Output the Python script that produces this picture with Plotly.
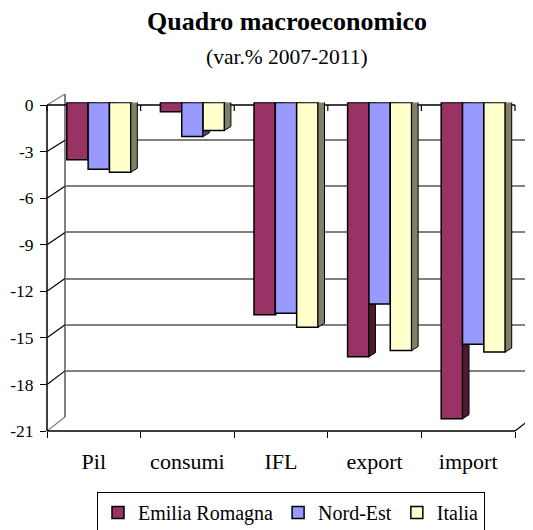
import plotly.graph_objects as go

# ---------------- data ----------------
categories = ["Pil", "consumi", "IFL", "export", "import"]
series_names = ["Emilia Romagna", "Nord-Est", "Italia"]
emilia = [-3.7, -0.6, -13.7, -16.4, -20.4]
nordest = [-4.3, -2.2, -13.6, -13.0, -15.6]
italia = [-4.5, -1.8, -14.5, -16.0, -16.1]
y_ticks = [0, -3, -6, -9, -12, -15, -18, -21]
y_tick_labels = ["0", "-3", "-6", "-9", "-12", "-15", "-18", "-21"]

# ---------------- styling / geometry ----------------
W, H = 533, 530
PAGE_OFF = 8  # default page body margin
FONT = "Liberation Serif"
front_colors = ["#993366", "#9999FF", "#FFFFCC"]
side_colors = ["#4D1A33", "#4D4D80", "#808066"]


def px(x):
    return (x - PAGE_OFF) / W


def py(y):
    return 1 - (y - PAGE_OFF) / H


FRONT = dict(x0=47, x1=515, ytop=105, ybot=431)
BACK = dict(x0=65, x1=533, ytop=94, ybot=417)
BARP = dict(x0=52, x1=520, ytop=102.5, ybot=428)
YMIN, YMAX = -21, 0
XMIN, XMAX = -0.5, len(categories) - 0.5

cat_px = (BARP["x1"] - BARP["x0"]) / len(categories)
unit_px = (BARP["ybot"] - BARP["ytop"]) / (YMAX - YMIN)
depth_dx = 6.5 / cat_px
depth_dy = 4.0 / unit_px

bar_w = 0.228
offsets = [-0.342, -0.114, 0.114]

xs = list(range(len(categories)))
all_series = [emilia, nordest, italia]

fig = go.Figure()

# empty traces to register front and back subplots
fig.add_trace(go.Scatter(x=[], y=[], xaxis="x", yaxis="y", showlegend=False))
fig.add_trace(go.Scatter(x=[], y=[], xaxis="x2", yaxis="y2", showlegend=False))

z = 1
for i, (name, vals) in enumerate(zip(series_names, all_series)):
    fig.add_trace(go.Bar(
        x=xs, y=vals, name=name, offset=offsets[i], width=bar_w,
        marker=dict(color=front_colors[i], line=dict(color="black", width=1.5)),
        xaxis="x3", yaxis="y3", zorder=z,
    ))
    z += 1
    sx, sy = [], []
    for xc, v in zip(xs, vals):
        x1 = xc + offsets[i] + bar_w
        sx += [x1, x1 + depth_dx, x1 + depth_dx, x1, x1, None]
        sy += [0, depth_dy, v + depth_dy, v, 0, None]
    fig.add_trace(go.Scatter(
        x=sx, y=sy, fill="toself", fillcolor=side_colors[i], mode="lines",
        line=dict(color="black", width=1), xaxis="x3", yaxis="y3",
        showlegend=False, hoverinfo="skip", zorder=z,
    ))
    z += 1

# top faces
tx, ty = [], []
for i, vals in enumerate(all_series):
    for xc in xs:
        x0 = xc + offsets[i]
        x1 = x0 + bar_w
        tx += [x0, x1, x1 + depth_dx, x0 + depth_dx, x0, None]
        ty += [0, 0, depth_dy, depth_dy, 0, None]
fig.add_trace(go.Scatter(
    x=tx, y=ty, fill="toself", fillcolor="black", mode="lines",
    line=dict(color="black", width=1), xaxis="x3", yaxis="y3",
    showlegend=False, hoverinfo="skip", zorder=z,
))


def fy(v, plane):
    return plane["ytop"] + (YMAX - v) / (YMAX - YMIN) * (plane["ybot"] - plane["ytop"])


def seg(x0, y0, x1, y1, color, width):
    return dict(type="line", xref="paper", yref="paper", x0=px(x0), y0=py(y0),
                x1=px(x1), y1=py(y1), line=dict(color=color, width=width), layer="below")


shapes = []
gray = "#808080"
# back wall left edge
shapes.append(seg(BACK["x0"], BACK["ytop"], BACK["x0"], BACK["ybot"], gray, 2))
# left wall / floor diagonals
for v in y_ticks:
    col = gray if v in (YMIN, YMAX) else "black"
    shapes.append(seg(FRONT["x0"], fy(v, FRONT), BACK["x0"], fy(v, BACK), col, 1.2))
shapes.append(seg(FRONT["x1"], FRONT["ybot"], BACK["x1"], BACK["ybot"], "black", 1.2))
# front vertical axis line and front floor edge
shapes.append(seg(FRONT["x0"], FRONT["ytop"], FRONT["x0"], FRONT["ybot"], "black", 1.5))
shapes.append(seg(FRONT["x0"], FRONT["ybot"], FRONT["x1"], FRONT["ybot"], "black", 1.5))
# category axis line at zero with boundary ticks
shapes.append(seg(FRONT["x0"], FRONT["ytop"], FRONT["x1"], FRONT["ytop"], "black", 1.5))
for b in range(len(categories) + 1):
    xb = FRONT["x0"] + b * (FRONT["x1"] - FRONT["x0"]) / len(categories)
    shapes.append(seg(xb, FRONT["ytop"], xb, FRONT["ytop"] + 6, "black", 1.2))

fig.update_layout(
    width=W, height=H,
    margin=dict(l=0, r=0, t=0, b=0, autoexpand=False),
    paper_bgcolor="white",
    plot_bgcolor="rgba(0,0,0,0)",
    barmode="overlay",
    font=dict(family=FONT, color="black"),
    shapes=shapes,
    xaxis=dict(domain=[px(FRONT["x0"]), px(FRONT["x1"])], range=[XMIN, XMAX], anchor="y",
               showline=False, showgrid=False, zeroline=False,
               tickmode="array", tickvals=xs, ticktext=categories, ticks="",
               tickfont=dict(family=FONT, size=22, color="black"), ticklabelstandoff=15,
               minor=dict(tickmode="array", tickvals=[b - 0.5 for b in range(len(categories) + 1)],
                          ticks="outside", ticklen=6, tickcolor="black", tickwidth=1.2)),
    yaxis=dict(domain=[py(FRONT["ybot"]), py(FRONT["ytop"])], range=[YMIN, YMAX], anchor="x",
               showline=False, showgrid=False, zeroline=False,
               tickmode="array", tickvals=y_ticks, ticktext=y_tick_labels, ticks="outside",
               ticklen=6, tickcolor="black", tickwidth=1.2,
               tickfont=dict(family=FONT, size=17.5, color="black"), ticklabelstandoff=3),
    xaxis2=dict(domain=[px(BACK["x0"]), px(BACK["x1"])], range=[XMIN, XMAX], anchor="y2",
                visible=False),
    yaxis2=dict(domain=[py(BACK["ybot"]), py(BACK["ytop"])], range=[YMIN, YMAX], anchor="x2",
                showgrid=True, gridcolor=gray, gridwidth=2, tickmode="array", tickvals=y_ticks,
                showticklabels=False, ticks="", showline=False, zeroline=False),
    xaxis3=dict(domain=[px(BARP["x0"]), px(BARP["x1"])], range=[XMIN, XMAX], anchor="y3",
                visible=False),
    yaxis3=dict(domain=[py(BARP["ybot"]), py(BARP["ytop"])], range=[YMIN, YMAX], anchor="x3",
                visible=False),
    legend=dict(orientation="h", x=px(291), xanchor="center", y=py(492), yanchor="top",
                bordercolor="black", borderwidth=1, bgcolor="white",
                font=dict(family=FONT, size=20, color="black")),
    annotations=[
        dict(text="<b>Quadro macroeconomico</b>", xref="paper", yref="paper",
             x=px(287), y=py(22), xanchor="center", yanchor="middle", showarrow=False,
             font=dict(family=FONT, size=26, color="black")),
        dict(text="(var.% 2007-2011)", xref="paper", yref="paper",
             x=px(287), y=py(57), xanchor="center", yanchor="middle", showarrow=False,
             font=dict(family=FONT, size=21.5, color="black")),
    ],
)

fig.write_html("out.html")
